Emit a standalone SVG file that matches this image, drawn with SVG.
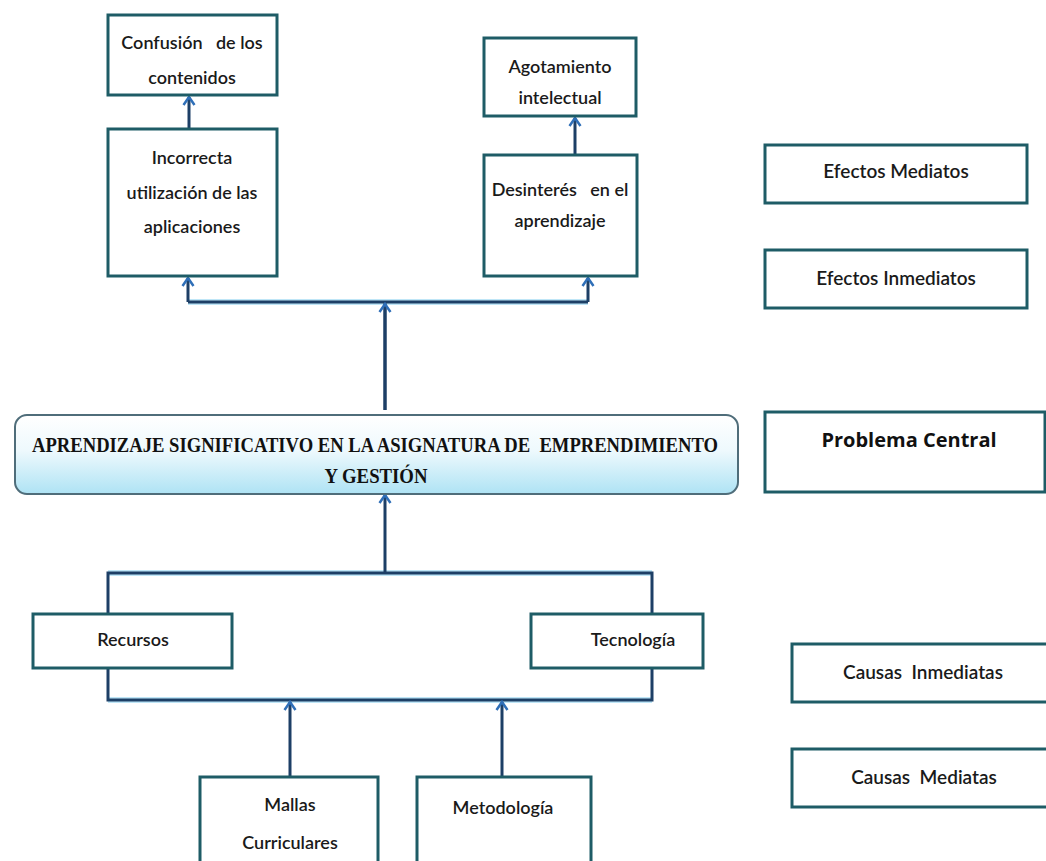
<svg xmlns="http://www.w3.org/2000/svg" width="1046" height="861" viewBox="0 0 1046 861">
<style>
.box{fill:#ffffff;stroke:#1e5c66;stroke-width:3}
.t{font-family:Lato,"Open Sans","Liberation Sans",sans-serif;font-size:18px;font-weight:600;fill:#1a1a1a;text-anchor:middle;white-space:pre}
.tl{font-family:Lato,"Open Sans","Liberation Sans",sans-serif;font-size:19px;font-weight:600;fill:#1a1a1a;text-anchor:middle;white-space:pre}
.tb{font-family:"Open Sans",Lato,"Liberation Sans",sans-serif;font-size:20px;font-weight:bold;fill:#111;text-anchor:middle}
.ct{font-family:"Liberation Serif","Times New Roman",serif;font-size:21px;font-weight:bold;fill:#111;text-anchor:middle;white-space:pre}
.ln{fill:none;stroke:#1d3f66;stroke-width:3}
.glow{fill:none;stroke:#bfe6f7;stroke-width:6}
</style>
<defs>
<linearGradient id="cg" x1="0" y1="0" x2="0" y2="1">
<stop offset="0" stop-color="#ffffff"/>
<stop offset="0.45" stop-color="#eef9fd"/>
<stop offset="1" stop-color="#aee3f4"/>
</linearGradient>
<marker id="ah" markerWidth="14" markerHeight="14" viewBox="0 0 14 14" refX="10" refY="7" orient="auto" markerUnits="userSpaceOnUse">
<path d="M2,1.5 L10,7 L2,12.5" fill="none" stroke="#2f6fb8" stroke-width="2.5"/>
</marker>
</defs>

<g id="connectors">
<path class="glow" d="M188,302 H588 M108,573 H652 M108,700 H652"/>
<path class="ln" d="M188,302 H588 M385,410 V302"/>
<path class="ln" d="M188,302 V278" marker-end="url(#ah)"/>
<path class="ln" d="M588,302 V278" marker-end="url(#ah)"/>
<path class="ln" d="M385,410 V304" marker-end="url(#ah)"/>
<path class="ln" d="M189,129 V97" marker-end="url(#ah)"/>
<path class="ln" d="M575,155 V118" marker-end="url(#ah)"/>
<path class="ln" d="M385,573 V495" marker-end="url(#ah)"/>
<path class="ln" d="M108,614 V573 H652 V614"/>
<path class="ln" d="M108,668 V700 H652 V668"/>
<path class="ln" d="M290,777 V702" marker-end="url(#ah)"/>
<path class="ln" d="M502,777 V702" marker-end="url(#ah)"/>
</g>

<g id="confusion">
<rect class="box" x="108" y="15" width="169" height="80"/>
<text class="t" x="192" y="49">Confusión   de los</text>
<text class="t" x="192" y="84">contenidos</text>
</g>
<g id="incorrecta">
<rect class="box" x="108" y="129" width="169" height="147"/>
<text class="t" x="192" y="164">Incorrecta</text>
<text class="t" x="192" y="199">utilización de las</text>
<text class="t" x="192" y="233">aplicaciones</text>
</g>
<g id="agotamiento">
<rect class="box" x="484" y="38" width="152" height="78"/>
<text class="t" x="560" y="73">Agotamiento</text>
<text class="t" x="560" y="104">intelectual</text>
</g>
<g id="desinteres">
<rect class="box" x="484" y="155" width="153" height="121"/>
<text class="t" x="560" y="196">Desinterés   en el</text>
<text class="t" x="560" y="227">aprendizaje</text>
</g>
<g id="efectos-mediatos">
<rect class="box" x="765" y="145" width="262" height="58"/>
<text class="tl" x="896" y="178">Efectos Mediatos</text>
</g>
<g id="efectos-inmediatos">
<rect class="box" x="765" y="250" width="262" height="58"/>
<text class="tl" x="896" y="285">Efectos Inmediatos</text>
</g>
<g id="problema">
<rect x="15" y="415" width="723" height="79" rx="12" fill="url(#cg)" stroke="#4f6d7a" stroke-width="2"/>
<text class="ct" x="375" y="452" textLength="686" lengthAdjust="spacingAndGlyphs">APRENDIZAJE SIGNIFICATIVO EN LA ASIGNATURA DE  EMPRENDIMIENTO</text>
<text class="ct" x="376" y="483" textLength="103" lengthAdjust="spacingAndGlyphs">Y GESTIÓN</text>
</g>
<g id="problema-central">
<rect class="box" x="765" y="412" width="280" height="80"/>
<text class="tb" x="909" y="447">Problema Central</text>
</g>
<g id="recursos">
<rect class="box" x="33" y="614" width="199" height="54"/>
<text class="t" x="133" y="646">Recursos</text>
</g>
<g id="tecnologia">
<rect class="box" x="531" y="614" width="172" height="54"/>
<text class="t" x="633" y="646">Tecnología</text>
</g>
<g id="causas-inmediatas">
<rect class="box" x="792" y="644" width="260" height="58"/>
<text class="tl" x="923" y="679">Causas  Inmediatas</text>
</g>
<g id="causas-mediatas">
<rect class="box" x="792" y="749" width="260" height="58"/>
<text class="tl" x="924" y="784">Causas  Mediatas</text>
</g>
<g id="mallas">
<rect class="box" x="200" y="777" width="178" height="100"/>
<text class="t" x="290" y="811">Mallas</text>
<text class="t" x="290" y="849">Curriculares</text>
</g>
<g id="metodologia">
<rect class="box" x="417" y="777" width="174" height="100"/>
<text class="t" x="503" y="814">Metodología</text>
</g>
</svg>
